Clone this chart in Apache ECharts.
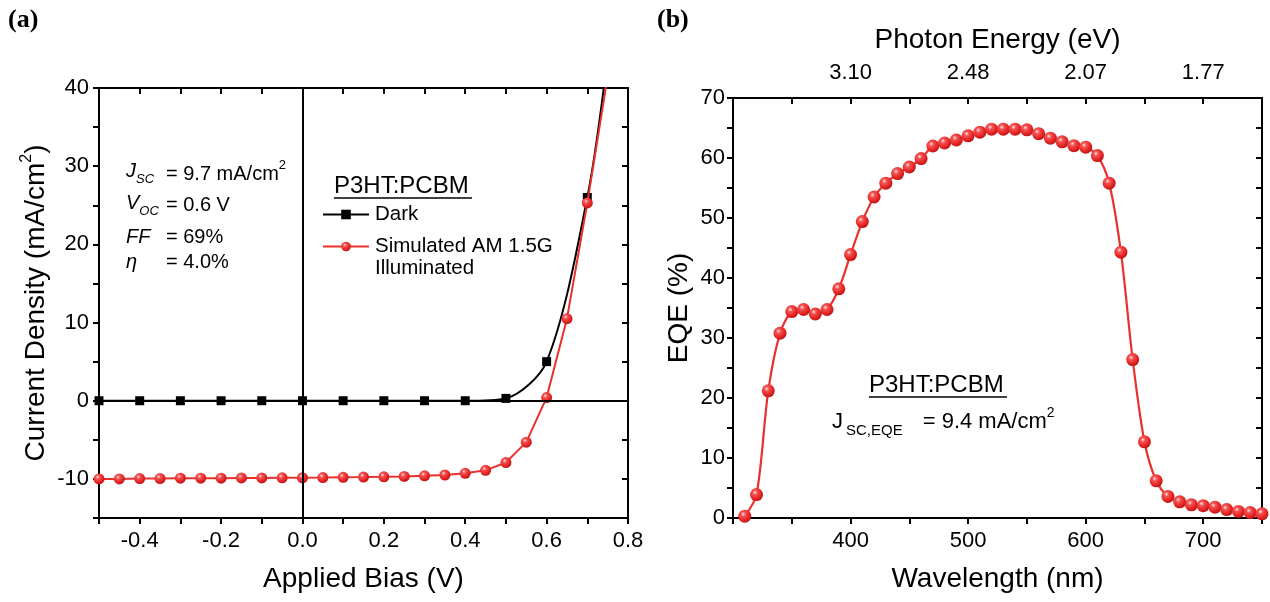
<!DOCTYPE html>
<html><head><meta charset="utf-8">
<script src="https://cdn.jsdelivr.net/npm/echarts@6/dist/echarts.min.js"></script>
<style>html,body{margin:0;padding:0;background:#fff}#c{width:1270px;height:602px}</style>
</head><body><div id="c"></div>
<script>
// ---------- data ----------
const biasDark = [-0.5,-0.4,-0.3,-0.2,-0.1,0,0.1,0.2,0.3,0.4,0.5,0.6,0.7,0.75];
const currentDark = [0,0,0,0,0,0,0,0,0,0,0.3,5.0,26.0,44.0];
const biasLight = [-0.5,-0.45,-0.4,-0.35,-0.3,-0.25,-0.2,-0.15,-0.1,-0.05,0,0.05,0.1,0.15,0.2,0.25,0.3,0.35,0.4,0.45,0.5,0.55,0.6,0.65,0.7,0.75];
const currentLight = [-10.0,-10.0,-9.95,-9.95,-9.9,-9.9,-9.9,-9.88,-9.87,-9.86,-9.85,-9.83,-9.8,-9.77,-9.73,-9.68,-9.6,-9.5,-9.28,-8.9,-7.9,-5.3,0.4,10.5,25.3,41.5];
const wavelength = [310,320,330,340,350,360,370,380,390,400,410,420,430,440,450,460,470,480,490,500,510,520,530,540,550,560,570,580,590,600,610,620,630,640,650,660,670,680,690,700,710,720,730,740,750];
const eqe = [0.3,3.9,21.2,30.8,34.4,34.75,34.0,34.75,38.2,43.9,49.4,53.5,55.8,57.4,58.5,59.9,62.0,62.5,63.0,63.7,64.3,64.8,64.8,64.8,64.7,64.05,63.3,62.7,62.05,61.8,60.4,55.8,44.3,26.4,12.7,6.2,3.6,2.7,2.2,2.05,1.8,1.4,1.1,0.9,0.7];
const energyTickNm = [400,500,600,700];
const energyTickLabels = ['3.10','2.48','2.07','1.77'];

// ---------- styles ----------
const FONT = '"Liberation Sans", Arial, sans-serif';
const TICK_FS = 22, TITLE_FS = 28;
const redLine = '#e8302c';
const redBall = {type:'radial', x:0.38, y:0.34, r:0.7, colorStops:[
  {offset:0,color:'#ffe4e4'},{offset:0.25,color:'#f45454'},{offset:0.7,color:'#e42222'},{offset:1,color:'#b81414'}]};
const line2 = {show:true, onZero:false, lineStyle:{color:'#000', width:2}};
const tickOut = {show:true, inside:false, length:6, lineStyle:{color:'#000', width:2}};
const tickIn = {show:true, inside:true, length:6, lineStyle:{color:'#000', width:2}};
const lbl = {color:'#000', fontFamily:FONT, fontSize:TICK_FS};
const nameStyle = {color:'#000', fontFamily:FONT, fontSize:TITLE_FS, lineHeight:34,
  rich:{sup:{fontFamily:FONT, fontSize:16, verticalAlign:'top', lineHeight:17, color:'#000'}}};
const txt = (fs, extra) => Object.assign({fontFamily:FONT, fontSize:fs, fill:'#000'}, extra||{});

function pairs(xs, ys){ return xs.map((x,i)=>[x, ys[i]]); }

const option = {
  animation:false,
  backgroundColor:'#fff',
  grid:[
    {left:99, top:88, width:529, height:430, outerBoundsMode:'none', containLabel:false},
    {left:733, top:98, width:529, height:420, outerBoundsMode:'none', containLabel:false}
  ],
  xAxis:[
    {gridIndex:0, type:'value', position:'bottom', min:-0.5, max:0.8, interval:0.1,
     axisLine:line2, axisTick:tickOut, splitLine:{show:false},
     axisLabel:Object.assign({margin:12, formatter:v=>{const k=Math.round(v*10); return k%2===0 ? (k/10).toFixed(1) : '';}}, lbl),
     name:'Applied Bias (V)', nameLocation:'middle', nameGap:44, nameTextStyle:nameStyle},
    {gridIndex:0, type:'value', position:'top', min:-0.5, max:0.8, interval:0.1,
     axisLine:line2, axisTick:tickIn, axisLabel:{show:false}, splitLine:{show:false}},
    {gridIndex:1, type:'value', position:'bottom', min:300, max:750, interval:50,
     axisLine:line2, axisTick:tickOut, splitLine:{show:false},
     axisLabel:Object.assign({margin:12, formatter:v=>(v%100===0 && v>=400 && v<=700) ? String(v) : ''}, lbl),
     name:'Wavelength (nm)', nameLocation:'middle', nameGap:44, nameTextStyle:nameStyle},
    {gridIndex:1, type:'value', position:'top', min:300, max:750, interval:50,
     axisLine:line2, axisTick:tickIn, splitLine:{show:false},
     axisLabel:Object.assign({margin:14, formatter:v=>{const i=energyTickNm.indexOf(Math.round(v)); return i>=0 ? energyTickLabels[i] : '';}}, lbl),
     name:'Photon Energy (eV)', nameLocation:'middle', nameGap:31, nameTextStyle:nameStyle}
  ],
  yAxis:[
    {gridIndex:0, type:'value', position:'left', min:-15, max:40, interval:5,
     axisLine:line2, axisTick:tickOut, splitLine:{show:false},
     axisLabel:Object.assign({margin:10, formatter:v=>(Math.round(v)%10===0) ? String(Math.round(v)) : ''}, lbl),
     name:'Current Density (mA/cm{sup|2})', nameLocation:'middle', nameGap:46, nameTextStyle:nameStyle},
    {gridIndex:0, type:'value', position:'right', min:-15, max:40, interval:5,
     axisLine:line2, axisTick:tickIn, axisLabel:{show:false}, splitLine:{show:false}},
    {gridIndex:1, type:'value', position:'left', min:0, max:70, interval:5,
     axisLine:line2, axisTick:tickOut, splitLine:{show:false},
     axisLabel:Object.assign({margin:8, formatter:v=>(Math.round(v)%10===0) ? String(Math.round(v)) : ''}, lbl),
     name:'EQE (%)', nameLocation:'middle', nameGap:35, nameTextStyle:nameStyle},
    {gridIndex:1, type:'value', position:'right', min:0, max:70, interval:5,
     axisLine:line2, axisTick:tickIn, axisLabel:{show:false}, splitLine:{show:false}}
  ],
  legend:{
    left:317, top:199, orient:'vertical', itemGap:11, itemWidth:46, itemHeight:12,
    textStyle:{color:'#000', fontFamily:FONT, fontSize:20.5, padding:[0,0,0,1]},
    data:['Dark','Simulated AM 1.5G'], selectedMode:false
  },
  series:[
    {name:'Dark', type:'line', xAxisIndex:0, yAxisIndex:0, data:pairs(biasDark, currentDark),
     smooth:0.3, symbol:'rect', symbolSize:9, showAllSymbol:true,
     lineStyle:{color:'#000', width:2}, itemStyle:{color:'#000'}, z:3,
     markLine:{silent:true, symbol:'none', label:{show:false}, lineStyle:{color:'#000', width:2, type:'solid'},
       data:[{xAxis:0},{yAxis:0}]}},
    {name:'Simulated AM 1.5G', type:'line', xAxisIndex:0, yAxisIndex:0, data:pairs(biasLight, currentLight),
     smooth:false, symbol:'circle', symbolSize:11, showAllSymbol:true,
     lineStyle:{color:redLine, width:2}, itemStyle:{color:redBall}, z:4},
    {name:'EQE', type:'line', xAxisIndex:2, yAxisIndex:2, data:pairs(wavelength, eqe),
     smooth:0.3, symbol:'circle', symbolSize:13, showAllSymbol:true,
     lineStyle:{color:redLine, width:2.2}, itemStyle:{color:redBall}, z:4}
  ],
  graphic:[
    {type:'text', left:8, top:7, style:{text:'(a)', font:'bold 26px "Liberation Serif", serif', fill:'#000'}},
    {type:'text', left:657, top:7, style:{text:'(b)', font:'bold 26px "Liberation Serif", serif', fill:'#000'}},
    // panel a parameters
    {type:'text', left:126, top:161, style:{text:'{i|J}{s|SC}', rich:{
      i:txt(20,{fontStyle:'italic', lineHeight:30}),
      s:txt(13,{fontStyle:'italic', verticalAlign:'bottom', lineHeight:12})}}},
    {type:'text', left:126, top:193, style:{text:'{i|V}{s|OC}', rich:{
      i:txt(20,{fontStyle:'italic', lineHeight:30}),
      s:txt(13,{fontStyle:'italic', verticalAlign:'bottom', lineHeight:12})}}},
    {type:'text', left:126, top:227, style:txt(20,{text:'FF', fontStyle:'italic'})},
    {type:'text', left:126, top:252, style:txt(20,{text:'η', fontStyle:'italic'})},
    {type:'text', left:166, top:159, style:txt(20,{text:'= 9.7 mA/cm{p|2}', lineHeight:30, rich:{
      p:txt(13,{verticalAlign:'top', lineHeight:14})}})},
    {type:'text', left:166, top:195, style:txt(20,{text:'= 0.6 V'})},
    {type:'text', left:166, top:227, style:txt(20,{text:'= 69%'})},
    {type:'text', left:166, top:252, style:txt(20,{text:'= 4.0%'})},
    // legend title a
    {type:'text', left:334, top:174, style:txt(24,{text:'P3HT:PCBM'})},
    {type:'line', shape:{x1:334, y1:198, x2:472, y2:198}, style:{stroke:'#000', lineWidth:1.5}},
    {type:'text', left:375, top:258, style:txt(20.5,{text:'Illuminated'})},
    // panel b annotation
    {type:'text', left:869, top:373, style:txt(24,{text:'P3HT:PCBM'})},
    {type:'line', shape:{x1:869, y1:397, x2:1007, y2:397}, style:{stroke:'#000', lineWidth:1.5}},
    {type:'text', left:832, top:406, style:txt(22,{text:'{j|J}{s|SC,EQE}{e|= 9.4 mA/cm}{p|2}', lineHeight:32, rich:{
      j:txt(22,{lineHeight:32, padding:[0,3,0,0]}),
      s:txt(15,{verticalAlign:'bottom', lineHeight:12}),
      e:txt(22,{lineHeight:32, padding:[0,0,0,20]}),
      p:txt(14,{verticalAlign:'top', lineHeight:15})}})}
  ]
};
const chart = echarts.init(document.getElementById('c'), null, {renderer:'canvas'});
chart.setOption(option);
</script>
</body></html>
